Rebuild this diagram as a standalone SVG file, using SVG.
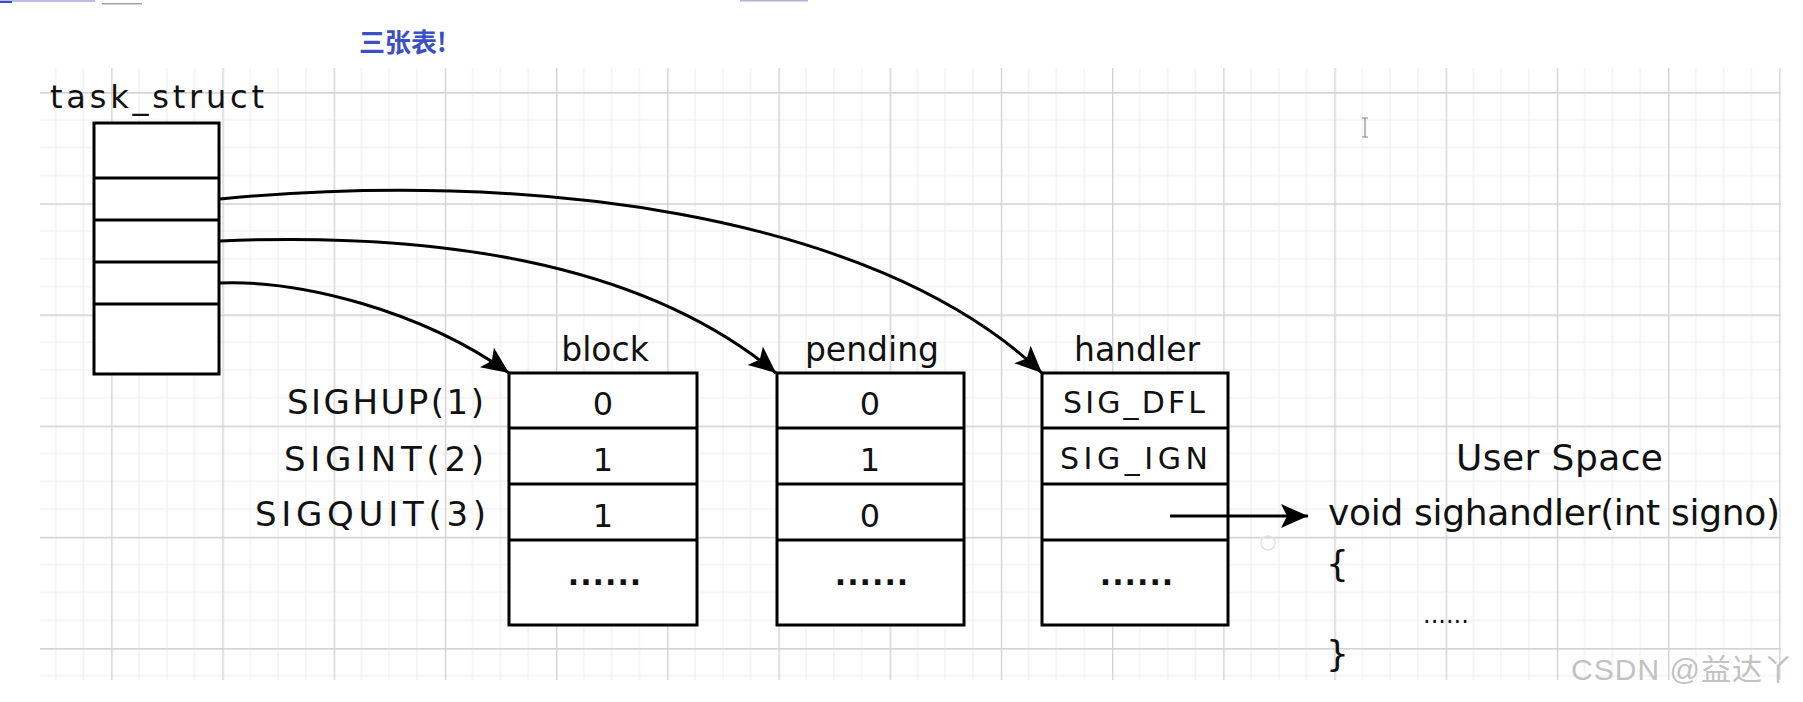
<svg xmlns="http://www.w3.org/2000/svg" width="1803" height="702" viewBox="0 0 1803 702">
<defs>
<style>
.t{font-family:"DejaVu Sans","Noto Sans CJK SC",sans-serif;fill:#111}
.box{fill:#fff;stroke:#000;stroke-width:3}
.div{stroke:#000;stroke-width:3;fill:none}
.conn{fill:none;stroke:#000;stroke-width:3}
.mid{text-anchor:middle}
.end{text-anchor:end}
</style>
<pattern id="grid" patternUnits="userSpaceOnUse" x="0" y="-19.2" width="111.2" height="111.2">
<path d="M27.8,0V111.2M55.6,0V111.2M83.4,0V111.2M0,27.8H111.2M0,55.6H111.2M0,83.4H111.2" stroke="#eeeeee" stroke-width="1.2" fill="none"/>
<rect x="0" y="0" width="1.4" height="111.2" fill="#d3d3d3"/>
<rect x="0" y="0" width="111.2" height="1.6" fill="#d3d3d3"/>
</pattern>
<marker id="arr" markerUnits="userSpaceOnUse" markerWidth="32" markerHeight="28" refX="27" refY="12" orient="auto">
<path d="M0,0 L27,12 L0,24 L6,12 Z" fill="#000"/>
</marker>
</defs>
<rect width="1803" height="702" fill="#fff"/>
<rect x="40" y="68" width="1741" height="612" fill="url(#grid)"/>
<g id="top-fragments">
<rect x="0" y="0" width="95" height="2" fill="#b8bde8"/>
<rect x="0" y="1" width="12" height="2" fill="#3b4bbd"/>
<rect x="102" y="3" width="40" height="1.5" fill="#9aa0b0"/>
<rect x="740" y="0" width="68" height="1.5" fill="#b0b4d8"/>
</g>
<text x="359" y="52" style="font-family:'Noto Sans CJK SC',sans-serif;font-weight:bold;font-size:26px;fill:#3d4fc4">三张表!</text>
<g id="cursor">
<path d="M1362,118H1368M1365,118V137M1362,137H1368" stroke="#888" stroke-width="1.2" fill="none"/>
<circle cx="1268" cy="543" r="7" fill="none" stroke="#e2e2e2" stroke-width="1.5"/>
</g>
<g id="task_struct">
<text class="t" x="50" y="108" font-size="32" textLength="214">task_struct</text>
<rect class="box" x="94" y="123" width="125" height="251"/>
<path class="div" d="M94,178H219M94,220H219M94,262H219M94,304H219"/>
</g>
<g id="signals">
<text class="t end" x="484" y="414" font-size="34" textLength="197">SIGHUP(1)</text>
<text class="t end" x="484" y="471" font-size="34" textLength="200">SIGINT(2)</text>
<text class="t end" x="486" y="526" font-size="34" textLength="231">SIGQUIT(3)</text>
</g>
<g id="block">
<text class="t mid" x="605" y="361" font-size="33">block</text>
<rect class="box" x="509" y="373" width="188" height="252"/>
<path class="div" d="M509,428H697M509,484H697M509,540H697"/>
<text class="t mid" x="603" y="415" font-size="32">0</text>
<text class="t mid" x="603" y="471" font-size="32">1</text>
<text class="t mid" x="603" y="527" font-size="32">1</text>
<text class="t mid" x="605" y="585" font-size="30" font-weight="bold" letter-spacing="1">......</text>
</g>
<g id="pending">
<text class="t mid" x="872" y="361" font-size="33">pending</text>
<rect class="box" x="777" y="373" width="187" height="252"/>
<path class="div" d="M777,428H964M777,484H964M777,540H964"/>
<text class="t mid" x="870" y="415" font-size="32">0</text>
<text class="t mid" x="870" y="471" font-size="32">1</text>
<text class="t mid" x="870" y="527" font-size="32">0</text>
<text class="t mid" x="872" y="585" font-size="30" font-weight="bold" letter-spacing="1">......</text>
</g>
<g id="handler">
<text class="t mid" x="1137" y="361" font-size="33">handler</text>
<rect class="box" x="1042" y="373" width="186" height="252"/>
<path class="div" d="M1042,428H1228M1042,484H1228M1042,540H1228"/>
<text class="t mid" x="1134" y="413" font-size="30" textLength="142">SIG_DFL</text>
<text class="t mid" x="1134" y="469" font-size="30" textLength="148">SIG_IGN</text>
<text class="t mid" x="1137" y="585" font-size="30" font-weight="bold" letter-spacing="1">......</text>
</g>
<g id="userspace">
<text class="t" x="1456" y="470" font-size="36" textLength="207">User Space</text>
<text class="t" x="1328" y="525" font-size="36" textLength="452">void sighandler(int signo)</text>
<text class="t" x="1326" y="576" font-size="36">{</text>
<text class="t" x="1423" y="623" font-size="24">......</text>
<text class="t" x="1326" y="666" font-size="36">}</text>
</g>
<g id="connectors">
<path class="conn" d="M220,283 C300,280 420,310 509,373" marker-end="url(#arr)"/>
<path class="conn" d="M220,241 C430,232 640,260 776,373" marker-end="url(#arr)"/>
<path class="conn" d="M220,199 C520,170 870,210 1042,373" marker-end="url(#arr)"/>
<path class="conn" d="M1170,516 L1308,516" marker-end="url(#arr)"/>
</g>
<text x="1571" y="680" style="font-family:'Liberation Sans','Noto Sans CJK SC',sans-serif;font-size:30px;fill:#c2c2c2" textLength="222">CSDN @益达丫</text>
</svg>
